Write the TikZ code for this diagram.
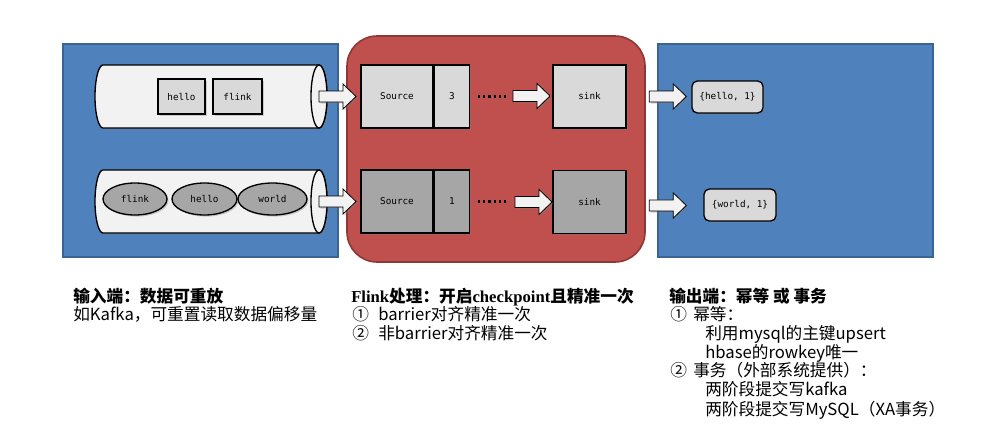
\documentclass[tikz,border=0pt]{standalone}
\usepackage{fontspec}
\setmainfont{Noto Sans CJK SC}
\newfontfamily\monofnt{DejaVu Sans Mono}
\newfontfamily\latinbold{Liberation Serif}
\usetikzlibrary{shadows,shapes.geometric}
\definecolor{panelblue}{HTML}{4F81BD}
\definecolor{panelblueedge}{HTML}{3A6493}
\definecolor{panelred}{HTML}{C0504D}
\definecolor{panelrededge}{HTML}{8C3836}
\definecolor{boxlight}{HTML}{D9D9D9}
\definecolor{boxdark}{HTML}{A6A6A6}
\definecolor{pipefill}{HTML}{F2F2F2}
\newcommand{\lb}[1]{{\latinbold\bfseries #1}}
\begin{document}
\begin{tikzpicture}[x=0.75pt,y=-0.75pt,
  bluepanel/.style={fill=panelblue,draw=panelblueedge,line width=1.2pt},
  redpanel/.style={fill=panelred,draw=panelrededge,line width=1.2pt,rounded corners=22.5pt},
  shad/.style={drop shadow={shadow xshift=1.2pt,shadow yshift=-1.2pt,opacity=0.35}},
  pipe/.style={fill=pipefill,draw=black,line width=1pt},
  itembox/.style={draw=black,line width=1pt,inner sep=0pt,font=\monofnt\fontsize{7}{8}\selectfont,shad},
  lightbox/.style={itembox,fill=boxlight},
  darkbox/.style={itembox,fill=boxdark},
  blockarrow/.pic={\draw[fill=pipefill,draw=black,line width=0.6pt,shad]
     (0,-5.5) -- (24,-5.5) -- (24,-12.5) -- (37,0) -- (24,12.5) -- (24,5.5) -- (0,5.5) -- cycle;},
  titletext/.style={font=\fontsize{12.5}{14}\selectfont\bfseries,inner sep=0pt,anchor=base west},
  bodytext/.style={font=\fontsize{12.5}{14}\selectfont,inner sep=0pt,anchor=base west}]
\useasboundingbox (0,0) rectangle (997,443);

% panels
\draw[bluepanel] (63,44) rectangle (338,257);
\draw[redpanel] (347,36) rectangle (645,262);
\draw[bluepanel] (658,44) rectangle (933,257);

% pipes
\draw[pipe,shad] (103,65) -- (319,65) arc[start angle=-90,end angle=90,x radius=8,y radius=31.5]
   -- (103,128) arc[start angle=90,end angle=270,x radius=8,y radius=31.5] -- cycle;
\draw[pipe] (319,96.5) ellipse[x radius=8,y radius=31.5];
\coordinate (pipe1end) at (327,96.5);
\draw[pipe,shad] (103,170) -- (319,170) arc[start angle=-90,end angle=90,x radius=8,y radius=31.5]
   -- (103,233) arc[start angle=90,end angle=270,x radius=8,y radius=31.5] -- cycle;
\draw[pipe] (319,201.5) ellipse[x radius=8,y radius=31.5];
\coordinate (pipe2end) at (327,201.5);

% items in pipes
\node[lightbox,minimum width=35.25pt,minimum height=26.25pt] (hello1) at (181.5,96.5) {hello};
\node[lightbox,minimum width=36.75pt,minimum height=26.25pt] (flink1) at (237.5,96.5) {flink};
\node[darkbox,ellipse,minimum width=48pt,minimum height=24pt] (flink2) at (135,199) {flink};
\node[darkbox,ellipse,minimum width=48.75pt,minimum height=24pt] (hello2) at (204.5,199) {hello};
\node[darkbox,ellipse,minimum width=51.75pt,minimum height=24pt] (world2) at (272.5,199) {world};

% arrows into flink
\pic at ([xshift=-6pt]pipe1end) {blockarrow};
\pic at ([xshift=-6pt]pipe2end) {blockarrow};

% flink operators
\node[lightbox,minimum width=54pt,minimum height=47.25pt] (src1) at (397,96.5) {Source};
\node[lightbox,minimum width=26.25pt,minimum height=47.25pt,anchor=west] (num1) at (src1.east) {3};
\node[lightbox,minimum width=54.75pt,minimum height=47.25pt] (sink1) at (589.5,96.5) {sink};
\node[darkbox,minimum width=54pt,minimum height=47.25pt] (src2) at (397,201.5) {Source};
\node[darkbox,minimum width=26.25pt,minimum height=47.25pt,anchor=west] (num2) at (src2.east) {1};
\node[darkbox,minimum width=54.75pt,minimum height=47.25pt] (sink2) at (589.5,202) {sink};

\draw[line width=1.6pt,dash pattern=on 1.6pt off 2.3pt,line cap=butt] ([xshift=6pt]num1.east) -- ([xshift=29pt]num1.east);
\draw[line width=1.6pt,dash pattern=on 1.6pt off 2.3pt,line cap=butt] ([xshift=6pt]num2.east) -- ([xshift=29pt]num2.east);
\pic at (513,96) {blockarrow};
\pic at (515,202) {blockarrow};

% arrows out
\pic at ([xshift=17pt,yshift=0pt]sink1.east) {blockarrow};
\pic at ([xshift=17pt,yshift=-2.6pt]sink2.east) {blockarrow};

% outputs
\node[lightbox,rounded corners=4pt,minimum width=53.25pt,minimum height=24pt] (out1) at (727.5,97) {\{hello, 1\}};
\node[lightbox,rounded corners=4pt,minimum width=54pt,minimum height=24pt] (out2) at (740,205) {\{world, 1\}};

% texts
\node[titletext] (t1) at (73,302) {输入端：数据可重放};
\node[bodytext] (t1a) at (73,320) {如Kafka，可重置读取数据偏移量};

\node[titletext] (t2) at (351,302) {\lb{Flink}处理：开启\lb{checkpoint}且精准一次};
\node[bodytext] (t2a) at (352,320) {\makebox[19.5pt][l]{①}barrier对齐精准一次};
\node[bodytext] (t2b) at (352,339) {\makebox[19.5pt][l]{②}非barrier对齐精准一次};

\node[titletext] (t3) at (669,302) {输出端：幂等 或 事务};
\node[bodytext] (t3a) at (670,320) {\makebox[17.25pt][l]{①}幂等：};
\node[bodytext] (t3b) at (705,339) {利用mysql的主键upsert};
\node[bodytext] (t3c) at (705,358) {hbase的rowkey唯一};
\node[bodytext] (t3d) at (670,376) {\makebox[17.25pt][l]{②}事务（外部系统提供）：};
\node[bodytext] (t3e) at (705,395) {两阶段提交写kafka};
\node[bodytext] (t3f) at (705,415) {两阶段提交写MySQL（XA事务）};
\end{tikzpicture}
\end{document}
